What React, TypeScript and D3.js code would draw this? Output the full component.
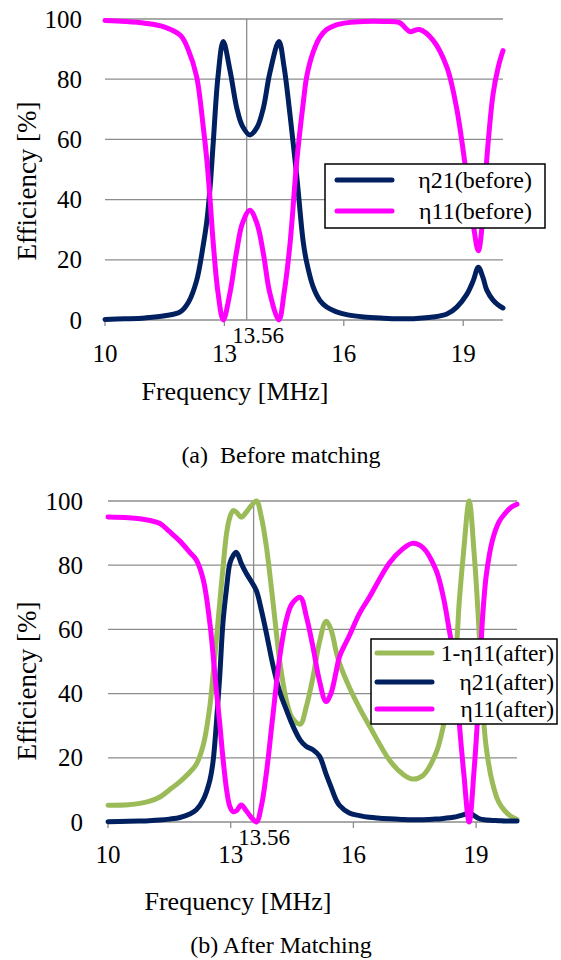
import React from "react";
import * as d3 from "d3";

// ---- Panel (a): before matching ----
const FREQ_BEFORE = [
  10, 10.5, 11, 11.5, 11.9, 12.1, 12.3, 12.47, 12.56, 12.64, 12.72, 12.84, 12.97, 13.14, 13.31, 13.45,
  13.64, 13.82, 13.98, 14.14, 14.37, 14.5, 14.65, 14.82, 14.98, 15.07, 15.23, 15.4, 15.57, 15.8, 16.1,
  16.5, 17, 17.4, 17.55, 17.66, 17.9, 18.24, 18.59, 18.84, 19.09, 19.25, 19.38, 19.5, 19.59, 19.75,
  19.88, 20,
];
const ETA21_BEFORE = [
  0.2, 0.4, 0.7, 1.4, 2.8, 6, 13, 25, 33, 44, 59, 81, 92.5, 83, 70.5, 64.5,
  61.5, 64, 70.5, 82, 92.5, 84, 68, 47.5, 26, 19, 11, 6.5, 4.3, 2.8, 1.7,
  1, 0.6, 0.4, 0.4, 0.4, 0.6, 1, 2, 4.3, 8.5, 13, 17.5, 14, 10, 6.6,
  5, 4,
];
const ETA11_BEFORE = [
  99.5, 99.2, 98.6, 97.3, 94.5, 89.5, 81, 64, 53, 40, 25.5, 9, 0, 9, 23, 32,
  36.5, 32, 22, 9, 0, 9, 25.5, 53, 72, 81, 89, 94, 96.5, 98, 98.8,
  99.2, 99.2, 98.8, 97, 95.8, 96.5, 93, 84, 70, 47.5, 32, 23, 35, 53, 75,
  84, 89.5,
];

// ---- Panel (b): after matching ----
const FREQ_AFTER = [
  10, 10.5, 10.78, 11.0, 11.27, 11.5, 11.76, 12.0, 12.16, 12.33, 12.49, 12.57, 12.65, 12.73, 12.81,
  12.9, 12.98, 13.06, 13.14, 13.26, 13.38, 13.5, 13.63, 13.75, 13.87, 14.03, 14.2, 14.36, 14.5, 14.7,
  14.85, 15.01, 15.17, 15.33, 15.45, 15.58, 15.66, 15.9, 16.15, 16.39, 16.88, 17.2, 17.44, 17.7,
  18.02, 18.2, 18.34, 18.5, 18.59, 18.7, 18.83, 18.95, 19.07, 19.15, 19.25, 19.4, 19.56, 19.7, 19.85, 20,
];
const ONE_MINUS_ETA11_AFTER = [
  5.2, 5.4, 5.8, 6.4, 7.8, 10, 12.6, 15.5, 18, 24, 36, 46, 57, 68, 79,
  90, 95, 97, 96.5, 95, 96.5, 98.5, 100, 95, 86, 69, 50, 38, 32.5, 30.5,
  36, 45, 56, 62.5, 60, 53, 49.5, 42, 35.5, 30, 19.3, 15, 13.4, 14.5,
  21.5, 30, 40, 52, 69, 85, 100, 84, 60, 38, 23, 12.2, 6, 3.5, 1.8, 0.8,
];
const ETA21_AFTER = [
  0.1, 0.2, 0.3, 0.4, 0.6, 0.9, 1.4, 2.5, 3.8, 7, 13, 19, 30.8, 45, 62,
  73, 80.6, 83, 84, 80.5, 77.5, 75, 72, 66, 59, 49, 40.5, 35, 30.5, 25.5,
  23.5, 22.5, 20.5, 15, 11, 6.8, 5.2, 2.8, 2, 1.5, 1, 0.8, 0.7, 0.7,
  0.9, 1.1, 1.3, 1.6, 1.9, 2.3, 2.8, 2, 1.1, 0.8, 0.6, 0.5, 0.4, 0.3, 0.3, 0.3,
];
const ETA11_AFTER = [
  95, 94.8, 94.5, 94, 93, 90.5, 87.5, 84, 81.6, 75.4, 62, 52, 41, 31, 20,
  10, 4.8, 3.2, 3.5, 5.3, 3.5, 1.5, 0, 5, 15, 33, 51.5, 63, 68, 70,
  64, 54.6, 44, 37.5, 40, 47, 51.5, 58, 65, 70, 80.7, 85, 86.8, 85.5,
  78.5, 70, 60, 48, 30.8, 15, 0, 16, 40, 62, 77, 87.8, 93.5, 96, 98, 99,
];

const Y_TICKS = [0, 20, 40, 60, 80, 100];
const X_TICKS = [10, 13, 16, 19];
const MARKER_FREQ = 13.56;
const MARKER_LABEL = "13.56";

const NAVY = "#002060";
const MAGENTA = "#FF00FF";
const GREEN = "#9BBB59";
const GRID = "#8c8c8c";
const FONT = "Liberation Serif, Tinos, Times New Roman, DejaVu Serif, serif";

type Series = { name: string; color: string; values: number[] };

type PanelProps = {
  freq: number[];
  series: Series[];
  left: number;
  right: number;
  top: number;
  bottom: number;
  yTickRight: number;
  xTickBaseline: number;
  markerLabelX: number;
  markerLabelBaseline: number;
  xTitleX: number;
  xTitleBaseline: number;
  yTitleX: number;
  yTitleY: number;
  caption: string;
  captionBaseline: number;
  legend: {
    x: number;
    y: number;
    w: number;
    h: number;
    rowY: number[];
    lineX0: number;
    lineX1: number;
    textRight: number;
    fontSize: number;
  };
};

function Panel(p: PanelProps) {
  const x = d3.scaleLinear().domain([10, 20]).range([p.left, p.right]);
  const y = d3.scaleLinear().domain([0, 100]).range([p.bottom, p.top]);
  const line = (vals: number[]) =>
    d3
      .line<number>()
      .x((_, i) => x(p.freq[i]))
      .y((v) => y(v))
      .curve(d3.curveCatmullRom.alpha(0.5))(vals) || "";

  return (
    <g>
      {/* horizontal gridlines, including the zero axis */}
      {Y_TICKS.map((t) => (
        <line key={"g" + t} x1={p.left} x2={p.right} y1={y(t)} y2={y(t)} stroke={GRID} strokeWidth={1.3} />
      ))}
      {/* x tick marks */}
      {X_TICKS.map((t) => (
        <line key={"t" + t} x1={x(t)} x2={x(t)} y1={p.bottom} y2={p.bottom + 6} stroke={GRID} strokeWidth={1.3} />
      ))}
      {/* 13.56 MHz marker */}
      <line x1={x(MARKER_FREQ)} x2={x(MARKER_FREQ)} y1={p.top} y2={p.bottom} stroke={GRID} strokeWidth={1.3} />

      {/* y tick labels */}
      {Y_TICKS.map((t) => (
        <text key={"yl" + t} x={p.yTickRight} y={y(t) + 8.5} textAnchor="end" fontSize={25} fontFamily={FONT} fill="#000">
          {t}
        </text>
      ))}
      {/* x tick labels */}
      {X_TICKS.map((t) => (
        <text key={"xl" + t} x={x(t)} y={p.xTickBaseline} textAnchor="middle" fontSize={25} fontFamily={FONT} fill="#000">
          {t}
        </text>
      ))}
      <text x={p.markerLabelX} y={p.markerLabelBaseline} textAnchor="middle" fontSize={23} fontFamily={FONT} fill="#000">
        {MARKER_LABEL}
      </text>

      {/* series */}
      {p.series.map((s) => (
        <path
          key={s.name}
          d={line(s.values)}
          fill="none"
          stroke={s.color}
          strokeWidth={5}
          strokeLinejoin="round"
          strokeLinecap="round"
        />
      ))}

      {/* axis titles */}
      <text x={p.xTitleX} y={p.xTitleBaseline} textAnchor="middle" fontSize={26} fontFamily={FONT} fill="#000">
        Frequency [MHz]
      </text>
      <text
        transform={`translate(${p.yTitleX},${p.yTitleY}) rotate(-90)`}
        textAnchor="middle"
        fontSize={27}
        fontFamily={FONT}
        fill="#000"
      >
        Efficiency [%]
      </text>

      {/* legend */}
      <rect x={p.legend.x} y={p.legend.y} width={p.legend.w} height={p.legend.h} fill="#fff" stroke="#000" strokeWidth={1.5} />
      {p.series.map((s, i) => (
        <g key={"lg" + s.name}>
          <line
            x1={p.legend.lineX0}
            x2={p.legend.lineX1}
            y1={p.legend.rowY[i]}
            y2={p.legend.rowY[i]}
            stroke={s.color}
            strokeWidth={5}
            strokeLinecap="round"
          />
          <text
            x={p.legend.textRight}
            y={p.legend.rowY[i] + 8}
            textAnchor="end"
            fontSize={p.legend.fontSize}
            fontFamily={FONT}
            fill="#000"
          >
            {s.name}
          </text>
        </g>
      ))}

      {/* caption */}
      <text x={281} y={p.captionBaseline} textAnchor="middle" fontSize={24} fontFamily={FONT} fill="#000" style={{ whiteSpace: "pre" }}>
        {p.caption}
      </text>
    </g>
  );
}

export default function App() {
  return (
    <svg
      width={561}
      height={960}
      viewBox="0 0 561 960"
      style={{ position: "absolute", left: 0, top: 0, background: "#fff" }}
    >
      <rect x={0} y={0} width={561} height={960} fill="#fff" />
      <Panel
        freq={FREQ_BEFORE}
        series={[
          { name: "η21(before)", color: NAVY, values: ETA21_BEFORE },
          { name: "η11(before)", color: MAGENTA, values: ETA11_BEFORE },
        ]}
        left={105}
        right={503}
        top={19}
        bottom={320}
        yTickRight={82}
        xTickBaseline={362}
        markerLabelX={258}
        markerLabelBaseline={343}
        xTitleX={235}
        xTitleBaseline={400}
        yTitleX={36}
        yTitleY={181}
        caption={"(a)  Before matching"}
        captionBaseline={463}
        legend={{
          x: 325,
          y: 164,
          w: 220,
          h: 64,
          rowY: [180, 211],
          lineX0: 337,
          lineX1: 392,
          textRight: 532,
          fontSize: 24,
        }}
      />
      <Panel
        freq={FREQ_AFTER}
        series={[
          { name: "1-η11(after)", color: GREEN, values: ONE_MINUS_ETA11_AFTER },
          { name: "η21(after)", color: NAVY, values: ETA21_AFTER },
          { name: "η11(after)", color: MAGENTA, values: ETA11_AFTER },
        ]}
        left={108}
        right={517}
        top={501}
        bottom={822}
        yTickRight={83}
        xTickBaseline={863}
        markerLabelX={264}
        markerLabelBaseline={845}
        xTitleX={238}
        xTitleBaseline={910}
        yTitleX={36}
        yTitleY={681}
        caption={"(b) After Matching"}
        captionBaseline={953}
        legend={{
          x: 371,
          y: 639,
          w: 186,
          h: 85,
          rowY: [653, 682, 709],
          lineX0: 377,
          lineX1: 432,
          textRight: 554,
          fontSize: 23.5,
        }}
      />
    </svg>
  );
}
